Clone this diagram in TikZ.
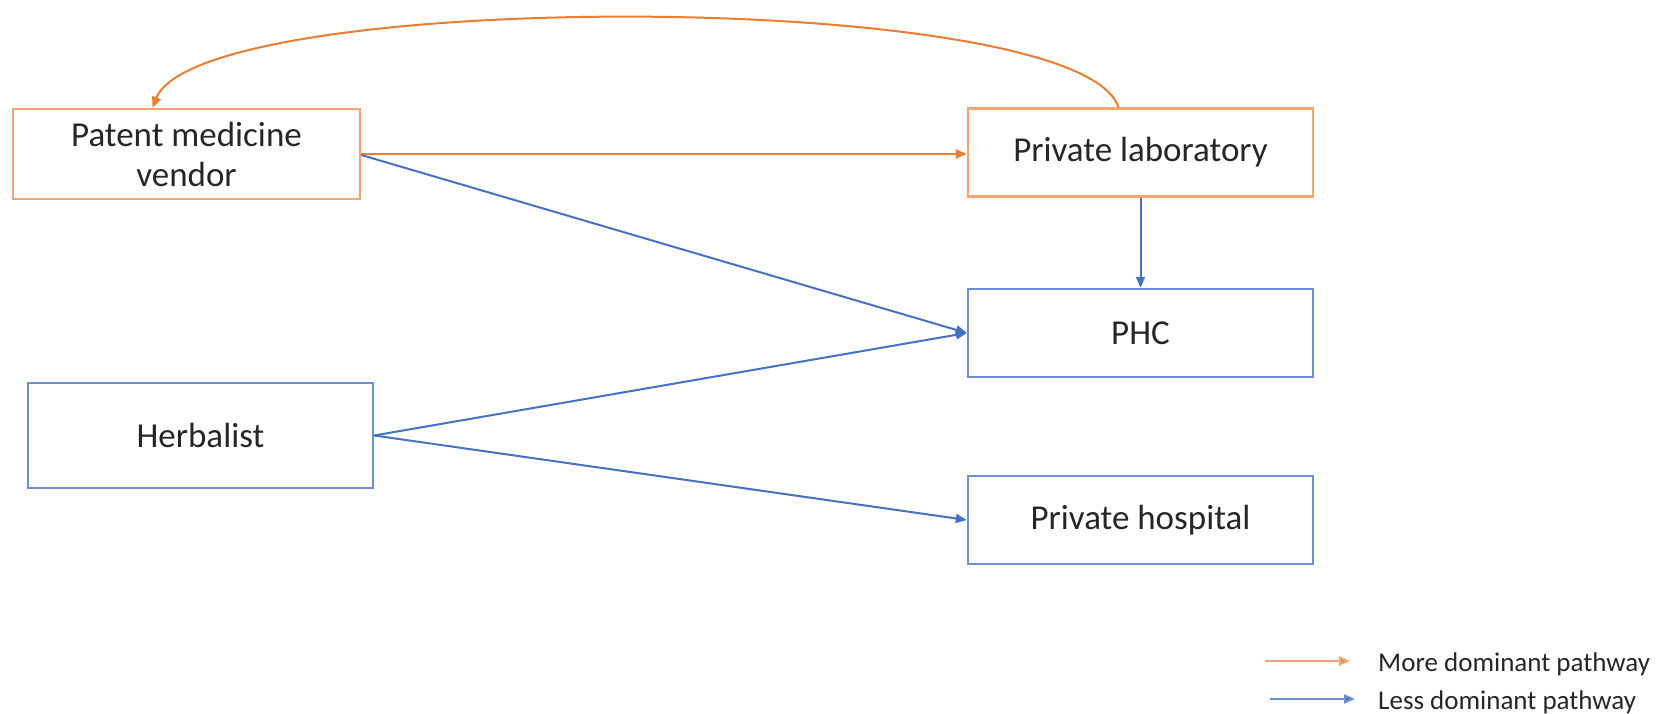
\documentclass[tikz,border=0pt]{standalone}
\usepackage{fontspec}
\setmainfont{Carlito}
\usetikzlibrary{arrows.meta}
\definecolor{dom}{HTML}{ED7D31}
\definecolor{domedge}{HTML}{F4A571}
\definecolor{less}{HTML}{4472C4}
\definecolor{lessedge}{HTML}{6A8FD2}
\begin{document}
\begin{tikzpicture}[x=1pt,y=1pt,
  provider/.style={draw, line width=2.4pt, minimum width=345pt, minimum height=88pt,
    inner sep=0pt, align=center, font=\fontsize{35}{40}\selectfont, text=black!85},
  domprov/.style={provider, draw=domedge},
  lessprov/.style={provider, draw=lessedge},
  tip/.style={-{Triangle[length=11pt,width=9pt]}},
  domarrow/.style={tip, draw=dom, line width=2pt},
  lessarrow/.style={tip, draw=less, line width=2pt},
  legtext/.style={anchor=west, inner sep=0pt, font=\fontsize{27}{30}\selectfont, text=black!85}]
\useasboundingbox (0,0) rectangle (1660,714);

% providers
\node[domprov, minimum width=347pt, minimum height=90pt] (pmv) at (186.5,560) {Patent medicine\\vendor};
\node[domprov] (lab) at (1140.5,561.5) {Private laboratory};
\node[lessprov] (phc) at (1140.5,381) {PHC};
\node[lessprov] (hosp) at (1140.5,194) {Private hospital};
\node[lessprov, minimum height=105pt] (herb) at (200.5,278.5) {Herbalist};

% more dominant pathways
\draw[domarrow] (pmv.east) -- (lab.west |- pmv.east);
\draw[domarrow] ([xshift=-22pt]lab.north) .. controls (1080,726) and (200,726) .. ([xshift=-34pt]pmv.north);

% less dominant pathways
\draw[lessarrow] ([yshift=-1pt]pmv.east) -- (phc.west);
\draw[lessarrow] (herb.east) -- (phc.west);
\draw[lessarrow] (herb.east) -- (hosp.west);
\draw[lessarrow] (lab.south) -- (phc.north);

% legend
\coordinate (ka) at (1265,53);
\coordinate (kb) at (1350,53);
\coordinate (kc) at (1270,15);
\coordinate (kd) at (1355,15);
\draw[domarrow, draw=domedge, -{Triangle[length=11pt,width=9pt,fill=dom]}] (ka) -- (kb);
\draw[lessarrow, draw=lessedge, -{Triangle[length=11pt,width=9pt,fill=less]}] (kc) -- (kd);
\node[legtext] (kt1) at (1378,50) {More dominant pathway};
\node[legtext] (kt2) at (1378,12) {Less dominant pathway};
\end{tikzpicture}
\end{document}
